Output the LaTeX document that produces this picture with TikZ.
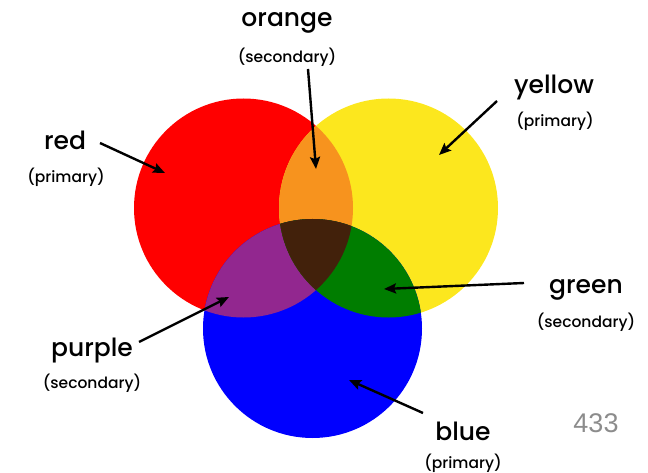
\documentclass[tikz,border=0pt]{standalone}
\usepackage{fontspec}
\setmainfont{Poppins}[UprightFont=* Medium]
\newfontfamily\numfont{Liberation Sans}
\usetikzlibrary{arrows.meta}
\definecolor{cRed}{RGB}{255,0,0}
\definecolor{cYellow}{RGB}{252,231,30}
\definecolor{cBlue}{RGB}{0,0,255}
\definecolor{cOrange}{RGB}{247,147,30}
\definecolor{cPurple}{RGB}{146,39,143}
\definecolor{cGreen}{RGB}{0,125,0}
\definecolor{cDark}{RGB}{66,33,11}
\definecolor{cNum}{RGB}{140,140,140}
\tikzset{
  mainlab/.style={font=\fontsize{25}{27}\selectfont, inner sep=0pt, text=black},
  sublab/.style={font=\fontsize{15.5}{17}\selectfont, inner sep=0pt, text=black},
  arr/.style={line width=2.4pt, -{Stealth[length=12pt,width=10pt,inset=2pt]}},
}
\begin{document}
\begin{tikzpicture}[x=1pt,y=-1pt]
\useasboundingbox (0,0) rectangle (648,473);
% circles
\def\rr{109.5}
\coordinate (cr) at (243.5,208);
\coordinate (cy) at (388.5,208);
\coordinate (cb) at (312.5,328.5);
\fill[cRed] (cr) circle (\rr);
\fill[cYellow] (cy) circle (\rr);
\fill[cBlue] (cb) circle (\rr);
\begin{scope}
  \clip (cr) circle (\rr);
  \fill[cOrange] (cy) circle (\rr);
  \fill[cPurple] (cb) circle (\rr);
  \clip (cy) circle (\rr);
  \fill[cDark] (cb) circle (\rr);
\end{scope}
\begin{scope}
  \clip (cy) circle (\rr);
  \clip (cb) circle (\rr);
  \fill[cGreen] (cy) circle (\rr);
  \clip (cr) circle (\rr);
  \fill[cDark] (cb) circle (\rr);
\end{scope}
% labels
\node[mainlab] (orange) at (287,23) {orange};
\node[sublab] (orangesub) at (287,57) {(secondary)};
\node[mainlab] (red) at (65,140) {red};
\node[sublab] (redsub) at (66,177) {(primary)};
\node[mainlab] (yellow) at (554,87) {yellow};
\node[sublab] (yellowsub) at (555,121) {(primary)};
\node[mainlab] (green) at (586,290) {green};
\node[sublab] (greensub) at (586,322) {(secondary)};
\node[mainlab] (purple) at (92,351) {purple};
\node[sublab] (purplesub) at (92,383) {(secondary)};
\node[mainlab] (blue) at (463,431) {blue};
\node[sublab] (bluesub) at (463,463) {(primary)};
\node[font=\numfont\fontsize{27}{29}\selectfont, text=cNum, inner sep=0pt] (num) at (596,423) {433};
% arrow ends
\coordinate (oS) at (308,69);
\coordinate (oT) at (316,169);
\coordinate (rS) at (100,143);
\coordinate (rT) at (165,173);
\coordinate (yS) at (497,101);
\coordinate (yT) at (439,155);
\coordinate (gS) at (524,283);
\coordinate (gT) at (384,289);
\coordinate (pS) at (139,342);
\coordinate (pT) at (229,297);
\coordinate (bS) at (423,413);
\coordinate (bT) at (349,380);
\draw[arr] (oS) -- (oT);
\draw[arr] (rS) -- (rT);
\draw[arr] (yS) -- (yT);
\draw[arr] (gS) -- (gT);
\draw[arr] (pS) -- (pT);
\draw[arr] (bS) -- (bT);
\end{tikzpicture}
\end{document}
